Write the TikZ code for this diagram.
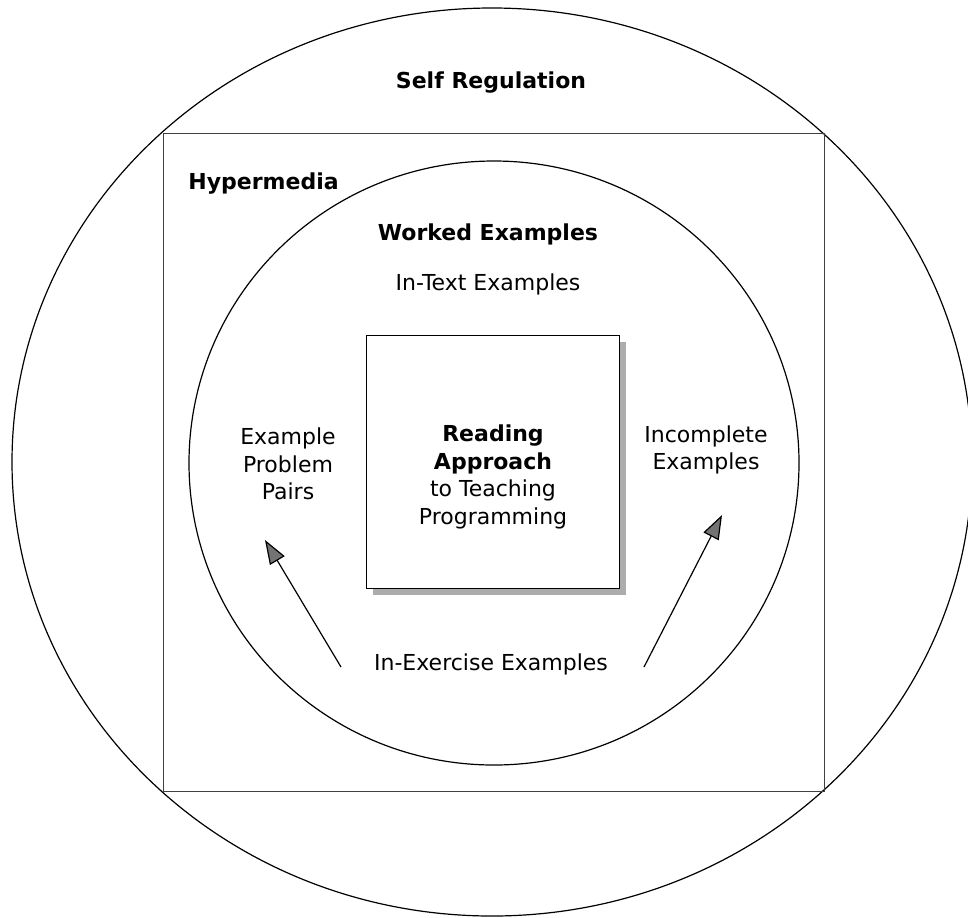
\documentclass[tikz,border=0pt]{standalone}
\usepackage{fontspec}
\setmainfont{DejaVu Sans}
\usetikzlibrary{arrows.meta, shadows, positioning}

\tikzset{
    ring/.style={line width=0.6pt},
    label/.style={align=center, inner sep=1pt},
    title/.style={label, font=\fontsize{11}{13.75}\selectfont\bfseries},
    corebox/.style={draw, fill=white, line width=0.5pt, minimum width=126.5pt, minimum height=126.5pt,
        drop shadow={shadow xshift=3pt, shadow yshift=-3pt, fill=gray!65, opacity=1}},
    pointer/.style={line width=0.6pt, -{Triangle[length=12pt, width=8.5pt, fill=black!55]}}
}

\begin{document}
\begin{tikzpicture}[x=0.5pt, y=-0.5pt, font=\fontsize{11}{13.75}\selectfont]
\useasboundingbox (0,0) rectangle (968,917);

% Self Regulation (outer circle)
\draw[ring] (492,462) ellipse [x radius=480, y radius=454];
\node[title] (selfreg) at (491,83) {Self Regulation};

% Hypermedia (square)
\draw[line width=0.5pt, black!75] (163,133) rectangle (824,791);
\node[title, anchor=west] (hyper) at (186,184) {Hypermedia};

% Worked Examples (inner circle)
\draw[ring] (494,463) ellipse [x radius=305, y radius=302];
\node[title] (worked) at (488,234) {Worked Examples};
\node[label] (intext) at (488,284) {In-Text Examples};

% Reading approach box in the middle
\node[corebox] (core) at (493,462) {};
\node[label] (coretext) at (493,477) {\textbf{Reading}\\\textbf{Approach}\\to Teaching\\Programming};

% Side labels
\node[label] (pairs) at (288,464) {Example\\Problem\\Pairs};
\node[label] (incomplete) at (706,450) {Incomplete\\Examples};
\node[label] (inexercise) at (491,664) {In-Exercise Examples};

% Arrows
\coordinate (ltail) at (341,667);
\coordinate (ltip) at (265,540);
\coordinate (rtail) at (644,667);
\coordinate (rtip) at (722,515);
\draw[pointer] (ltail) -- (ltip);
\draw[pointer] (rtail) -- (rtip);

\end{tikzpicture}
\end{document}
